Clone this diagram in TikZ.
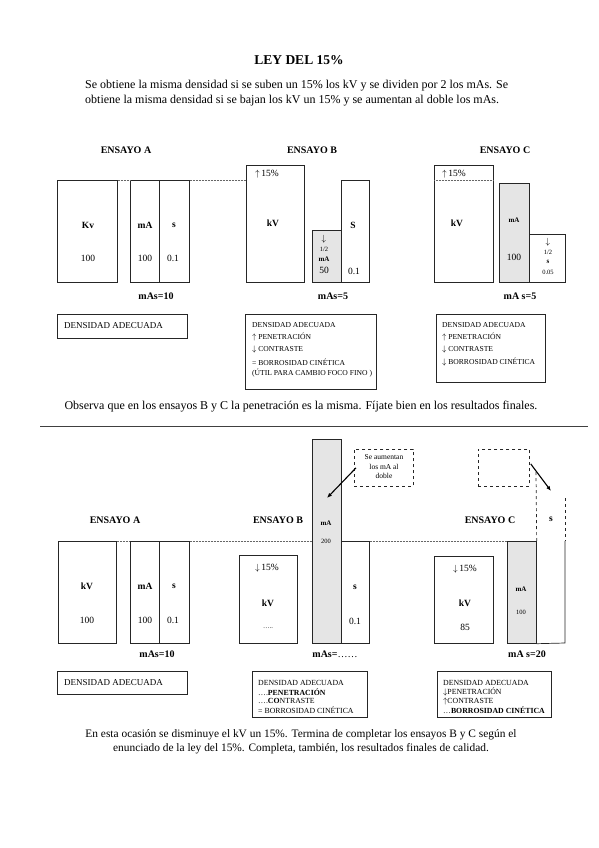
\documentclass[tikz,border=0pt]{standalone}
\usepackage{fontspec}
\setmainfont{Liberation Serif}
\usetikzlibrary{arrows.meta}
\begin{document}
\begin{tikzpicture}[x=1pt,y=-1pt,
  box/.style={draw=black!85, line width=0.7pt, fill=white, inner sep=0pt, anchor=north west},
  gbox/.style={box, fill=black!10},
  dbox/.style={box, dashed, fill=none},
  lbl/.style={inner sep=0pt, font=\fontsize{9.5}{10}\selectfont\bfseries},
  slbl/.style={inner sep=0pt, font=\fontsize{7}{8}\selectfont\bfseries},
  val/.style={inner sep=0pt, font=\fontsize{9.5}{10}\selectfont},
  sval/.style={inner sep=0pt, font=\fontsize{6.5}{7}\selectfont},
  head/.style={inner sep=0pt, font=\fontsize{10}{11}\selectfont\bfseries},
  res/.style={inner sep=0pt, anchor=west, font=\fontsize{7.6}{8}\selectfont},
  resb/.style={inner sep=0pt, anchor=west, font=\fontsize{7.8}{8}\selectfont},
  resa/.style={inner sep=0pt, anchor=west, font=\fontsize{9}{10}\selectfont},
  para/.style={inner sep=0pt, font=\fontsize{12}{14}\selectfont},
  paraf/.style={inner sep=0pt, font=\fontsize{11.4}{13}\selectfont},
  dotline/.style={densely dotted, draw=black!60, line width=0.5pt},
  arr/.style={-{Latex[length=5pt,width=4pt]}, line width=1.1pt}
]
\useasboundingbox (0,0) rectangle (599,848);

% ---------- title ----------
\node[inner sep=0pt, font=\fontsize{13.5}{15}\selectfont\bfseries] (title) at (299,60) {LEY DEL 15\%};
\node[para, anchor=west] (p1) at (85,86) {Se obtiene la misma densidad si se suben un 15\% los kV y se dividen por 2 los mAs. Se};
\node[para, anchor=west] (p2) at (85,101) {obtiene la misma densidad si se bajan los kV un 15\% y se aumentan al doble los mAs.};

% ---------- top section ----------
\node[head] (hA) at (126,150) {ENSAYO A};
\node[head] (hB) at (312,150) {ENSAYO B};
\node[head] (hC) at (505,150) {ENSAYO C};

% Ensayo A
\node[box, minimum width=60, minimum height=102] (akv) at (57,180) {};
\node[box, minimum width=29, minimum height=102] (ama) at (130,180) {};
\node[box, minimum width=30, minimum height=102] (as) at (159,180) {};
\node[lbl] (akvl) at (88,225) {Kv};
\node[val] (akvv) at (88,258) {100};
\node[lbl] (amal) at (145,225) {mA};
\node[val] (amav) at (145,258) {100};
\node[lbl] (asl) at (174,225) {s};
\node[val] (asv) at (173,258) {0.1};
\node[head] (amas) at (156,296) {mAs=10};

% Ensayo B
\node[box, minimum width=58, minimum height=117] (bkv) at (246,165) {};
\node[gbox, minimum width=29, minimum height=52] (bma) at (312,230) {};
\node[box, minimum width=28, minimum height=102] (bs) at (341,180) {};
\node[val] (bkvp) at (267,174) {$\uparrow$\,15\%};
\node[lbl] (bkvl) at (273,223) {kV};
\node[val] (bmaa) at (324,239) {$\downarrow$};
\node[sval] (bmah) at (324,249) {1/2};
\node[slbl] (bmal) at (324,259) {mA};
\node[val] (bmav) at (324,270) {50};
\node[lbl] (bsl) at (353,225) {S};
\node[val] (bsv) at (354,271) {0.1};
\node[head] (bmas) at (333,296) {mAs=5};

% Ensayo C
\node[box, minimum width=59, minimum height=117] (ckv) at (434,165) {};
\node[gbox, minimum width=30, minimum height=99] (cma) at (499,183) {};
\node[box, minimum width=36, minimum height=48] (cs) at (529,234) {};
\node[val] (ckvp) at (454,174) {$\uparrow$\,15\%};
\node[lbl] (ckvl) at (457,223) {kV};
\node[slbl] (cmal) at (514,220) {mA};
\node[val] (cmav) at (514,257) {100};
\node[val] (csa) at (548,242) {$\downarrow$};
\node[sval] (csh) at (548,252) {1/2};
\node[slbl] (csl) at (548,262) {s};
\node[sval] (csv) at (548,272) {0.05};
\node[head] (cmas) at (520,296) {mA s=5};

% reference dotted line (top)
\draw[dotline] (akv.north east) -- (ama.north west);
\draw[dotline] (as.north east) -- (as.north east -| bkv.west);
\draw[dotline] (ckv.west |- as.north) -- (ckv.east |- as.north);

% result boxes (top)
\node[box, minimum width=130, minimum height=24] (ra) at (57,314) {};
\node[resa] (ra1) at (64,326) {DENSIDAD ADECUADA};

\node[box, minimum width=131, minimum height=75] (rb) at (245,314) {};
\node[res] (rb1) at (252,325) {DENSIDAD ADECUADA};
\node[res] (rb2) at (252,337) {$\uparrow$ PENETRACIÓN};
\node[res] (rb3) at (252,349) {$\downarrow$ CONTRASTE};
\node[res] (rb4) at (252,362) {= BORROSIDAD CINÉTICA};
\node[res] (rb5) at (252,373) {(ÚTIL PARA CAMBIO FOCO FINO )};

\node[box, minimum width=109, minimum height=68] (rc) at (436,314) {};
\node[res] (rc1) at (442,325) {DENSIDAD ADECUADA};
\node[res] (rc2) at (442,337) {$\uparrow$ PENETRACIÓN};
\node[res] (rc3) at (442,349) {$\downarrow$ CONTRASTE};
\node[res] (rc4) at (442,362) {$\downarrow$ BORROSIDAD CINÉTICA};

\node[para] (obs) at (301,407) {Observa que en los ensayos B y C la penetración es la misma. Fíjate bien en los resultados finales.};

% separator
\coordinate (sepl) at (40,426);
\coordinate (sepr) at (588,426);
\draw[line width=0.9pt, black!75] (sepl) -- (sepr);

% ---------- bottom section ----------
\node[head] (hA2) at (115,520) {ENSAYO A};
\node[head] (hB2) at (278,520) {ENSAYO B};
\node[head] (hC2) at (490,520) {ENSAYO C};

% Ensayo A
\node[box, minimum width=58, minimum height=102] (akv2) at (58,541) {};
\node[box, minimum width=29, minimum height=102] (ama2) at (130,541) {};
\node[box, minimum width=30, minimum height=102] (as2) at (159,541) {};
\node[lbl] (akvl2) at (87,586) {kV};
\node[val] (akvv2) at (87,620) {100};
\node[lbl] (amal2) at (145,586) {mA};
\node[val] (amav2) at (145,620) {100};
\node[lbl] (asl2) at (174,586) {s};
\node[val] (asv2) at (173,620) {0.1};
\node[head] (amas2) at (157,654) {mAs=10};

% Ensayo B
\node[box, minimum width=58, minimum height=88] (bkv2) at (239,555) {};
\node[gbox, minimum width=29, minimum height=204] (bma2) at (312,439) {};
\node[box, minimum width=28, minimum height=102] (bs2) at (341,541) {};
\node[val] (bkvp2) at (267,568) {$\downarrow$\,15\%};
\node[lbl] (bkvl2) at (268,603) {kV};
\node[sval] (bkvv2) at (268,628) {\dots..};
\node[slbl] (bmal2) at (326,523) {mA};
\node[sval] (bmav2) at (326,541) {200};
\node[lbl] (bsl2) at (355,587) {s};
\node[val] (bsv2) at (355,621) {0.1};
\node[head] (bmas2) at (335,654) {mAs=\textmd{\dots\dots}};

\node[dbox, minimum width=59, minimum height=37] (callb) at (354,449) {};
\node[inner sep=0pt, align=center, font=\fontsize{7.5}{9.5}\selectfont] (callbt) at (384,467) {Se aumentan\\los mA al\\doble};
\coordinate (callbtip) at (327,498);
\draw[arr] (callb.west) ++(2,0) coordinate (callbs) (callbs) -- (callbtip);

% Ensayo C
\node[box, minimum width=59, minimum height=87] (ckv2) at (434,556) {};
\node[gbox, minimum width=29, minimum height=102] (cma2) at (507,541) {};
\node[val] (ckvp2) at (465,569) {$\downarrow$\,15\%};
\node[lbl] (ckvl2) at (465,603) {kV};
\node[val] (ckvv2) at (465,627) {85};
\node[slbl] (cmal2) at (521,589) {mA};
\node[sval] (cmav2) at (521,612) {100};
\coordinate (cstl) at (536,472);
\coordinate (cstr) at (565,498);
\coordinate (csmr) at (565,541);
\coordinate (csbr) at (565,643);
\draw[line width=0.7pt, black!85, dashed] (cstl) -- (cma2.north east);
\draw[line width=0.7pt, black!85, dashed] (cstr) -- (csmr);
\draw[line width=0.7pt, black!85] (csmr) -- (csbr) -- (cma2.south east);
\node[lbl] (csl2) at (551,519) {s};
\node[head] (cmas2) at (527,654) {mA s=20};

\node[dbox, minimum width=51, minimum height=37] (callc) at (478,449) {};
\coordinate (callctip) at (551,491);
\draw[arr] (callc.east) ++(1,-4) coordinate (callcs) (callcs) -- (callctip);

% reference dotted line (bottom)
\draw[dotline] (akv2.north east) -- (ama2.north west);
\draw[dotline] (as2.north east) -- (bma2.west |- as2.north);
\draw[dotline] (bs2.north east) -- (cma2.north west);

% result boxes (bottom)
\node[box, minimum width=130, minimum height=23] (ra2) at (57,671) {};
\node[resa] (ra21) at (64,683) {DENSIDAD ADECUADA};

\node[box, minimum width=115, minimum height=46] (rb2b) at (252,671) {};
\node[resb] (rb21) at (258,683) {DENSIDAD ADECUADA};
\node[resb] (rb22) at (258,692) {\dots.\textbf{PENETRACIÓN}};
\node[resb] (rb23) at (258,701) {\dots.\textbf{CO}NTRASTE};
\node[resb] (rb24) at (258,710) {= BORROSIDAD CINÉTICA};

\node[box, minimum width=114, minimum height=46] (rc2b) at (437,671) {};
\node[resb] (rc21) at (443,683) {DENSIDAD ADECUADA};
\node[resb] (rc22) at (443,692) {$\downarrow$PENETRACIÓN};
\node[resb] (rc23) at (443,701) {$\uparrow$CONTRASTE};
\node[resb] (rc24) at (443,710) {\dots\textbf{BORROSIDAD CINÉTICA}};

\node[paraf] (fin1) at (301,735) {En esta ocasión se disminuye el kV un 15\%. Termina de completar los ensayos B y C según el};
\node[paraf] (fin2) at (301,749) {enunciado de la ley del 15\%. Completa, también, los resultados finales de calidad.};
\end{tikzpicture}
\end{document}
